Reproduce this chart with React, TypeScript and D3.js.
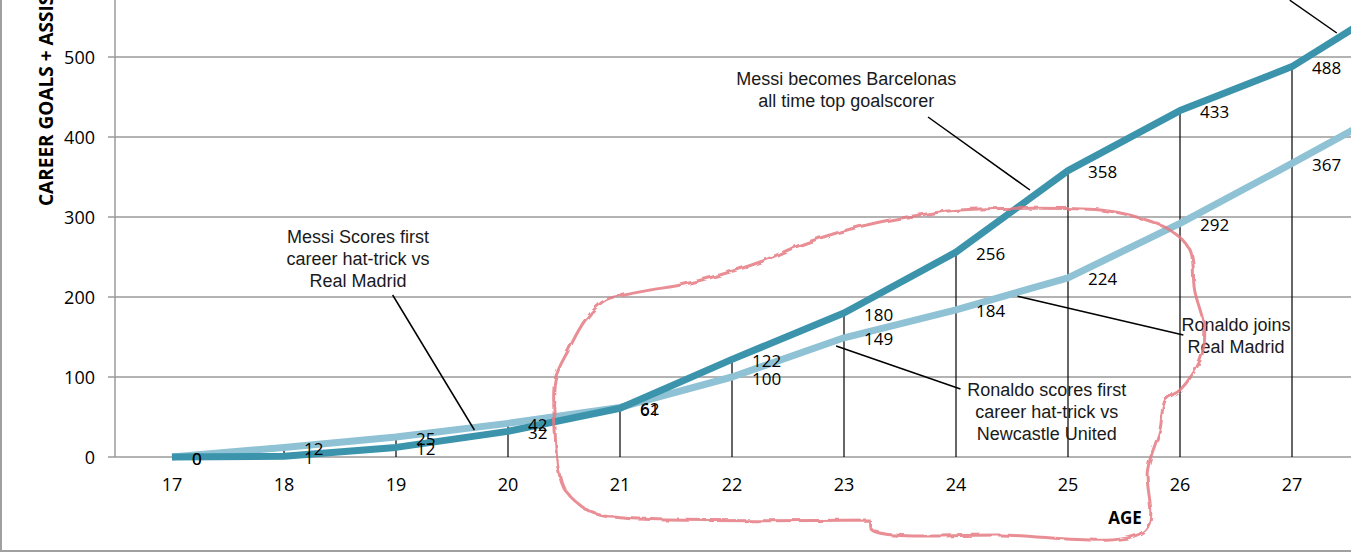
import React from "react";
import * as d3 from "d3";

const ages = [17, 18, 19, 20, 21, 22, 23, 24, 25, 26, 27, 28];
const messi = [0, 1, 12, 32, 61, 122, 180, 256, 358, 433, 488, 575];
const ronaldo = [0, 12, 25, 42, 62, 100, 149, 184, 224, 292, 367, 444];
const yTicks = [0, 100, 200, 300, 400, 500];
const xTickLabels = ["17", "18", "19", "20", "21", "22", "23", "24", "25", "26", "27"];

type Note = { lines: string[]; at: [number, number]; from: [number, number]; to: [number, number] };
const notes: Note[] = [
  { lines: ["Messi becomes Barcelonas", "all time top goalscorer"], at: [23.02, 472.5], from: [23.75, 425], to: [24.66, 333.75] },
  { lines: ["Messi Scores first", "career hat-trick vs", "Real Madrid"], at: [18.66, 276], from: [18.97, 202.5], to: [19.7, 33.75] },
  { lines: ["Ronaldo scores first", "career hat-trick vs", "Newcastle United"], at: [24.81, 83.75], from: [22.93, 138.75], to: [24.04, 85] },
  { lines: ["Ronaldo joins", "Real Madrid"], at: [26.5, 166], from: [24.55, 201], to: [26.03, 152.5] },
  { lines: [], at: [27, 600], from: [26.98, 571], to: [27.4, 530] },
];

// hand-drawn red loop, in (age, value) space
const loopAges = [23.23, 21.0, 20.73, 20.51, 20.45, 20.42, 20.42, 20.54, 20.69, 20.87, 21.04, 21.27, 21.54, 21.89, 22.25, 22.61, 22.96, 23.32, 23.68, 24.04, 25.29, 25.55, 25.91, 26.09, 26.13, 26.22, 26.18, 26.0, 25.87, 25.82, 25.71, 25.69, 24.39, 23.25, 23.23];
const loopVals = [-78.75, -76, -68, -41.25, -16.25, 33.75, 96.25, 133.75, 171.25, 196.25, 202.5, 208.75, 215, 227.5, 243.75, 265, 281.25, 293.75, 302.5, 308.75, 308.75, 302.5, 283.75, 258.75, 208.75, 158.75, 121.25, 83.75, 71.25, 33.75, -16.25, -91.25, -97.5, -91.25, -78.75];

const W = 1351;
const H = 558;
const x = d3.scaleLinear().domain([17, 27]).range([172, 1292]);
const y = d3.scaleLinear().domain([0, 500]).range([457, 57]);

const DARK = "#3b94ab";
const LIGHT = "#8ec2d4";
const NUM_FONT = "'Open Sans', sans-serif";
const NOTE_FONT = "'Liberation Sans', Arial, sans-serif";

export default function App() {
  const line = d3
    .line<number>()
    .x((_, i) => x(ages[i]))
    .y((d) => y(d));
  const loop = d3
    .line<number>()
    .x((_, i) => x(loopAges[i]))
    .y((d) => y(d))
    .curve(d3.curveCatmullRom);
  const axisLeft = x.range()[0] - 57;
  return (
    <svg width={W} height={H} style={{ position: "absolute", left: 0, top: 0, background: "#fff" }}>
      <defs>
        <filter id="rough" x="-5%" y="-5%" width="110%" height="110%">
          <feTurbulence type="fractalNoise" baseFrequency="0.08" numOctaves={2} seed={3} />
          <feDisplacementMap in="SourceGraphic" scale={4} />
        </filter>
      </defs>
      <rect x={1} y={-5} width={W + 10} height={H - 2} fill="none" stroke="#a0a0a0" strokeWidth={2} />
      {yTicks.map((t) => (
        <g key={t}>
          <line x1={axisLeft - 7} x2={W} y1={y(t)} y2={y(t)} stroke="#9a9a9a" strokeWidth={1.5} />
          <text x={95} y={y(t) + 1} dy="0.36em" textAnchor="end" fontFamily={NUM_FONT} fontSize={18} fill="#000">
            {t}
          </text>
        </g>
      ))}
      <line x1={axisLeft} x2={axisLeft} y1={0} y2={y(0)} stroke="#9a9a9a" strokeWidth={1.5} />
      {xTickLabels.map((t, i) => (
        <text key={t} x={x(ages[i])} y={y(0) + 28} dy="0.36em" textAnchor="middle" fontFamily={NUM_FONT} fontSize={18} fill="#000">
          {t}
        </text>
      ))}
      <text
        transform={`translate(46,206) rotate(-90)`}
        dy="0.36em"
        fontFamily={NUM_FONT}
        fontWeight="bold"
        fontSize={19}
        fill="#000"
      >
        CAREER GOALS + ASSISTS
      </text>
      <text x={1125} y={518} dy="0.36em" textAnchor="middle" fontFamily={NUM_FONT} fontWeight="bold" fontSize={17} fill="#000">
        AGE
      </text>
      {ages.slice(1, 11).map((a, j) => {
        const i = j + 1;
        return (
          <line key={a} x1={x(a)} x2={x(a)} y1={y(0)} y2={y(Math.max(messi[i], ronaldo[i]))} stroke="#000" strokeWidth={1.2} />
        );
      })}
      <path d={line(ronaldo) || ""} fill="none" stroke={LIGHT} strokeWidth={7} strokeLinejoin="round" />
      <path d={line(messi) || ""} fill="none" stroke={DARK} strokeWidth={7} strokeLinejoin="round" />
      {ages.slice(0, 11).map((a, i) => (
        <g key={a} fontFamily={NUM_FONT} fontSize={17} fill="#000">
          <text x={x(a) + 20} y={y(ronaldo[i])} dy="0.45em">
            {ronaldo[i]}
          </text>
          <text x={x(a) + 20} y={y(messi[i])} dy="0.45em">
            {messi[i]}
          </text>
        </g>
      ))}
      {notes.map((n, k) => (
        <g key={k}>
          <line x1={x(n.from[0])} y1={y(n.from[1])} x2={x(n.to[0])} y2={y(n.to[1])} stroke="#000" strokeWidth={1.5} />
          {n.lines.map((s, j) => (
            <text
              key={j}
              x={x(n.at[0])}
              y={y(n.at[1]) + j * 22}
              dy="0.36em"
              textAnchor="middle"
              fontFamily={NOTE_FONT}
              fontSize={18}
              fill="#1a1a1a"
            >
              {s}
            </text>
          ))}
        </g>
      ))}
      <path
        d={loop(loopVals) || ""}
        fill="none"
        stroke="#e57a82"
        strokeWidth={3}
        strokeOpacity={0.85}
        filter="url(#rough)"
      />
    </svg>
  );
}
